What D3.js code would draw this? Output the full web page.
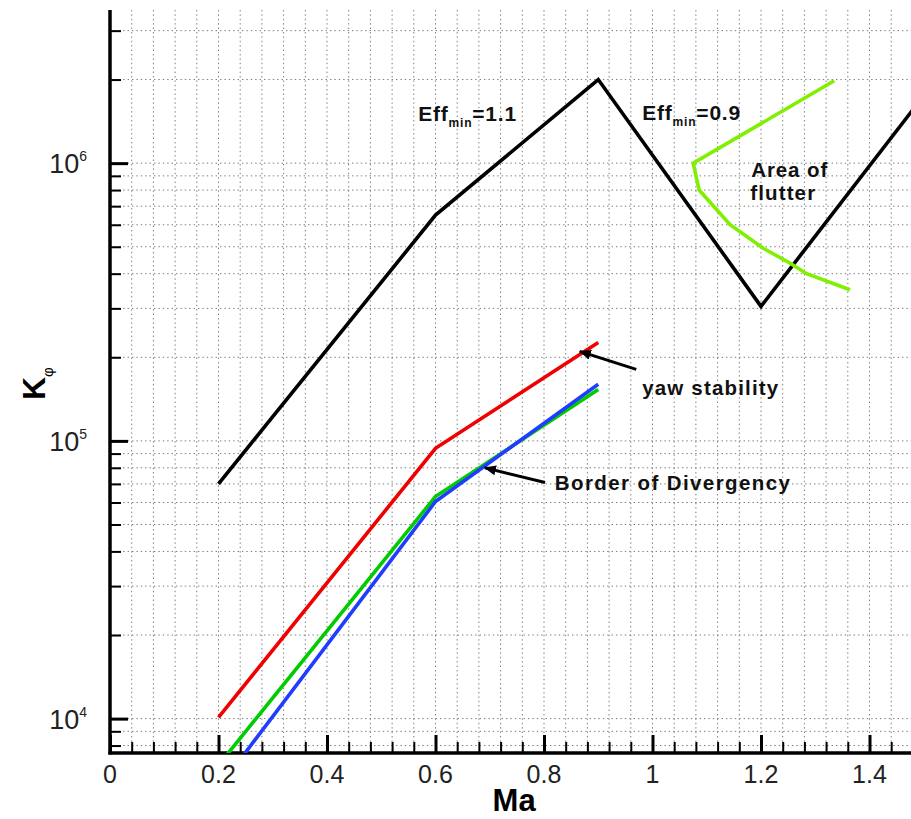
<!DOCTYPE html>
<html><head><meta charset="utf-8">
<script src="https://cdn.jsdelivr.net/npm/d3@7"></script>
<style>
html,body{margin:0;padding:0;background:#fff;}
svg{display:block;}
text{font-family:"Liberation Sans",Arial,Helvetica,sans-serif;}
</style></head>
<body>
<svg id="chart" width="911" height="819"></svg>
<script>
// ---- data ----
const machBlack = [0.2, 0.6, 0.9, 1.2, 1.5];
const kBlack    = [70000, 650000, 2000000, 305000, 1750000];
const machRed   = [0.2, 0.6, 0.9];
const kRed      = [10100, 94000, 226000];
const machGreen = [0.2, 0.6, 0.9];
const kGreen    = [6800, 63000, 153000];
const machBlue  = [0.2, 0.6, 0.9];
const kBlue     = [5620, 60500, 160000];
const machFlutter = [1.335, 1.075, 1.086, 1.143, 1.204, 1.253, 1.284, 1.364];
const kFlutter    = [1980000, 1000000, 800000, 600000, 494000, 437000, 400000, 350000];
const xTickValues = [0, 0.2, 0.4, 0.6, 0.8, 1, 1.2, 1.4];
const xTickLabels = ["0", "0.2", "0.4", "0.6", "0.8", "1", "1.2", "1.4"];
const yMajorValues = [1e4, 1e5, 1e6];
const yMajorExp    = ["4", "5", "6"];

// ---- layout ----
const svg = d3.select("#chart");
const L = 110, B = 753, T = 10, R = 911;
const x = d3.scaleLinear().domain([0, 1.5]).range([L, L + 1.5 * 542.5]);
const y = d3.scaleLog().domain([7520, 3.56e6]).range([B, T]);

svg.append("defs").append("clipPath").attr("id", "clip")
  .append("rect").attr("x", L).attr("y", T).attr("width", R - L).attr("height", B - T);
const mk = svg.select("defs").append("marker").attr("id", "arr")
  .attr("viewBox", "0 0 12 10").attr("refX", 11).attr("refY", 5)
  .attr("markerWidth", 12).attr("markerHeight", 10).attr("markerUnits", "userSpaceOnUse")
  .attr("orient", "auto");
mk.append("path").attr("d", "M0,0 L12,5 L0,10 Z").attr("fill", "#000");

// minor tick values
const xMinor = d3.range(0, 1.5001, 0.04).map(v => +v.toFixed(2));
const yMinor = [];
[1e3, 1e4, 1e5, 1e6].forEach(d => { for (let m = 2; m <= 9; m++) { const v = m * d; if (v >= 7520 && v <= 3.56e6) yMinor.push(v); } });

// grid
const grid = svg.append("g").attr("clip-path", "url(#clip)");
grid.selectAll(".gx").data(xMinor).join("line")
  .attr("x1", d => x(d)).attr("x2", d => x(d)).attr("y1", T).attr("y2", B)
  .attr("stroke", "#7a7a7a").attr("stroke-width", 1).attr("stroke-dasharray", "1.4,3");
grid.selectAll(".gy").data(yMinor.concat(yMajorValues)).join("line")
  .attr("x1", L).attr("x2", R).attr("y1", d => y(d)).attr("y2", d => y(d))
  .attr("stroke", "#7a7a7a").attr("stroke-width", 1).attr("stroke-dasharray", "1.4,3");

// axes
const xAxisMajor = d3.axisTop(x).tickValues(xTickValues).tickSize(18).tickFormat("");
const xAxisMinor = d3.axisTop(x).tickValues(xMinor).tickSize(11).tickFormat("");
const yAxisMajor = d3.axisRight(y).tickValues(yMajorValues).tickSize(18).tickFormat("");
const yAxisMinor = d3.axisRight(y).tickValues(yMinor).tickSize(11).tickFormat("");
[xAxisMinor, xAxisMajor].forEach((ax, i) => {
  const g = svg.append("g").attr("transform", `translate(0,${B})`).call(ax);
  g.select(".domain").remove();
  g.selectAll(".tick line").attr("stroke", "#000").attr("stroke-width", i ? 3 : 2);
  g.selectAll(".tick").filter(d => d > 1.478).remove();
});
[yAxisMinor, yAxisMajor].forEach((ax, i) => {
  const g = svg.append("g").attr("transform", `translate(${L},0)`).call(ax);
  g.select(".domain").remove();
  g.selectAll(".tick line").attr("stroke", "#000").attr("stroke-width", i ? 3 : 2);
});
svg.append("line").attr("x1", L).attr("x2", L).attr("y1", T).attr("y2", B + 1.5)
  .attr("stroke", "#000").attr("stroke-width", 3.5);
svg.append("line").attr("x1", L - 1.5).attr("x2", R).attr("y1", B).attr("y2", B)
  .attr("stroke", "#000").attr("stroke-width", 3.5);

// tick labels
svg.selectAll(".xl").data(xTickValues).join("text")
  .attr("x", d => x(d)).attr("y", B + 30).attr("text-anchor", "middle")
  .attr("font-size", 25).attr("fill", "#222")
  .text((d, i) => xTickLabels[i]);
const yl = svg.selectAll(".yl").data(yMajorValues).join("text")
  .attr("x", L - 23).attr("y", d => y(d) + 10).attr("text-anchor", "end")
  .attr("font-size", 27).attr("fill", "#222");
yl.append("tspan").text("10");
yl.append("tspan").attr("font-size", 14).attr("dy", -12).text((d, i) => yMajorExp[i]);

// axis titles
svg.append("text").attr("x", x(0.745)).attr("y", 811).attr("text-anchor", "middle")
  .attr("font-size", 31).attr("font-weight", "bold").text("Ma");
const kt = svg.append("text").attr("transform", "translate(45,400) rotate(-90)")
  .attr("font-size", 32).attr("font-weight", "bold");
kt.append("tspan").text("K");
kt.append("tspan").attr("font-size", 15).attr("dy", 8).attr("font-weight", "normal").text("φ");

// lines
const line = d3.line().x(d => x(d[0])).y(d => y(d[1]));
const plot = svg.append("g").attr("clip-path", "url(#clip)");
const series = [
  [machBlack, kBlack, "#000000"],
  [machFlutter, kFlutter, "#80f000"],
  [machGreen, kGreen, "#00cc00"],
  [machBlue, kBlue, "#1f3cff"],
  [machRed, kRed, "#f00000"]
];
series.forEach(([xs, ys, c]) => {
  plot.append("path").datum(xs.map((v, i) => [v, ys[i]]))
    .attr("d", line).attr("fill", "none").attr("stroke", c)
    .attr("stroke-width", 3.6).attr("stroke-linejoin", "miter");
});

// annotations
const arrows = [
  [[0.970, 181000], [0.866, 210000]],
  [[0.802, 70800], [0.691, 80000]]
];
arrows.forEach(([a, b]) => {
  svg.append("line").attr("x1", x(a[0])).attr("y1", y(a[1])).attr("x2", x(b[0])).attr("y2", y(b[1]))
    .attr("stroke", "#000").attr("stroke-width", 3).attr("marker-end", "url(#arr)");
});
function sub(pos, main, subt, rest) {
  const t = svg.append("text").attr("x", x(pos[0])).attr("y", y(pos[1]))
    .attr("font-size", 21).attr("font-weight", "bold").attr("fill", "#111")
    .attr("letter-spacing", 0.8);
  t.append("tspan").text(main);
  t.append("tspan").attr("font-size", 12).attr("dy", 6).text(subt);
  t.append("tspan").attr("dy", -6).text(rest);
}
sub([0.568, 1.42e6], "Eff", "min", "=1.1");
sub([0.981, 1.43e6], "Eff", "min", "=0.9");
const notes = [
  [[1.182, 893000], "Area of", 76],
  [[1.180, 738000], "flutter", 65],
  [[0.981, 146000], "yaw stability", 136],
  [[0.820, 66800], "Border of Divergency", 235]
];
notes.forEach(([p, s, w]) => {
  svg.append("text").attr("x", x(p[0])).attr("y", y(p[1]))
    .attr("font-size", 20.5).attr("font-weight", "bold").attr("fill", "#111")
    .attr("textLength", w).attr("lengthAdjust", "spacing").text(s);
});
</script>
</body></html>
